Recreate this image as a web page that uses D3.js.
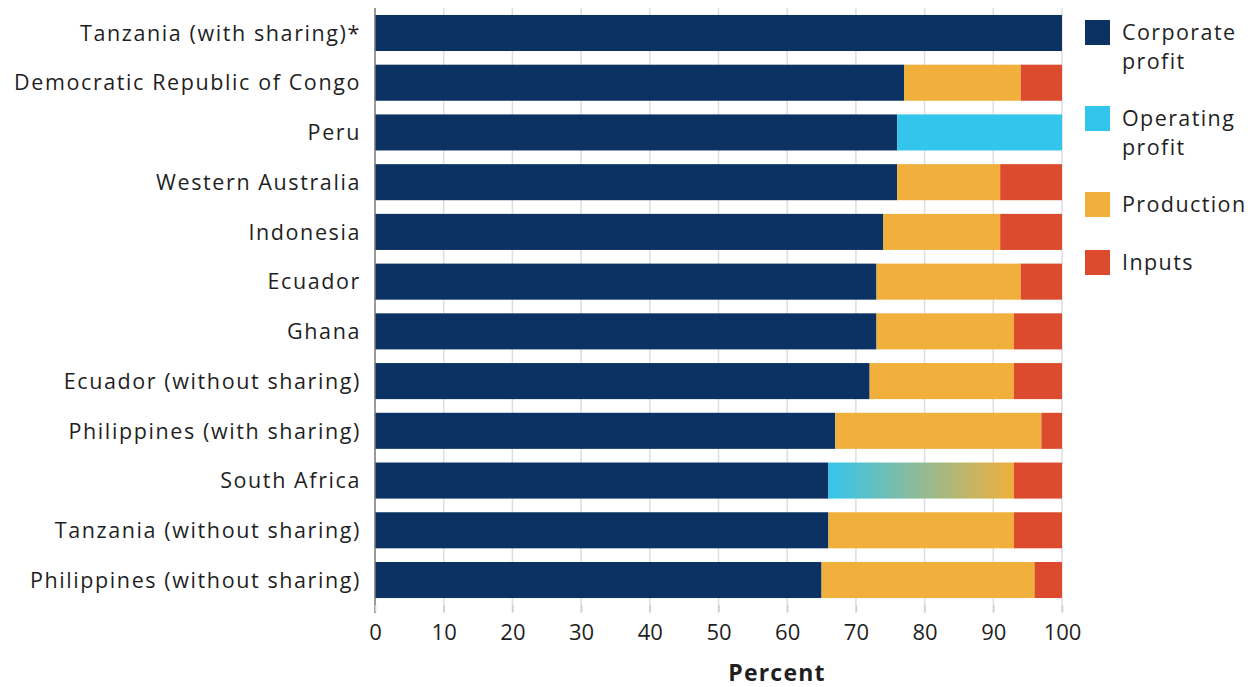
<!DOCTYPE html>
<html>
<head>
<meta charset="utf-8">
<script src="https://cdn.jsdelivr.net/npm/d3@7"></script>
<style>
  html, body { margin: 0; padding: 0; background: #ffffff; }
  svg { display: block; }
  text { font-family: "Open Sans", "DejaVu Sans", sans-serif; fill: #1f1f1f; }
</style>
</head>
<body>
<svg id="chart" width="1255" height="687"></svg>
<script>
// Share of value by recipient, percent of total
const regions = [
  "Tanzania (with sharing)*",
  "Democratic Republic of Congo",
  "Peru",
  "Western Australia",
  "Indonesia",
  "Ecuador",
  "Ghana",
  "Ecuador (without sharing)",
  "Philippines (with sharing)",
  "South Africa",
  "Tanzania (without sharing)",
  "Philippines (without sharing)"
];
const corporateProfit = [100, 77, 76, 76, 74, 73, 73, 72, 67, 66, 66, 65];
const operatingProfit = [0, 0, 24, 0, 0, 0, 0, 0, 0, 0, 0, 0];
const production      = [0, 17, 0, 15, 17, 21, 20, 21, 30, 0, 27, 31];
// South Africa's middle segment mixes operating profit and production
const mixedSegment    = [0, 0, 0, 0, 0, 0, 0, 0, 0, 27, 0, 0];
const inputs          = [0, 6, 0, 9, 9, 6, 7, 7, 3, 7, 7, 4];

const seriesNames = ["Corporate profit", "Operating profit", "Production", "Inputs"];
const xTicks = [0, 10, 20, 30, 40, 50, 60, 70, 80, 90, 100];

const colors = {
  corporate: "#0b3263",
  operating: "#33c5ec",
  production: "#f0b03b",
  inputs: "#dc4b2d",
  mixed: "url(#mixGrad)"
};

const svg = d3.select("#chart");
const margin = { left: 375, right: 193, top: 8, bottom: 82 };
const W = 1255, H = 687;

const x = d3.scaleLinear().domain([0, 100]).range([margin.left, W - margin.right]);
const y = d3.scaleBand().domain(regions).range([margin.top, H - margin.bottom])
  .paddingInner(0.275).paddingOuter(0.14);

// Gradient for the mixed segment
const defs = svg.append("defs");
const grad = defs.append("linearGradient").attr("id", "mixGrad")
  .attr("x1", "0%").attr("x2", "100%").attr("y1", "0%").attr("y2", "0%");
grad.append("stop").attr("offset", "0%").attr("stop-color", colors.operating);
grad.append("stop").attr("offset", "100%").attr("stop-color", colors.production);

// Vertical gridlines
svg.append("g").selectAll("line").data(xTicks.slice(1)).join("line")
  .attr("x1", d => x(d)).attr("x2", d => x(d))
  .attr("y1", margin.top).attr("y2", H - margin.bottom + 8)
  .attr("stroke", "#dedede").attr("stroke-width", 1.5);

// Stacked rows
const rows = regions.map((r, i) => {
  const parts = [
    { key: "corporate", v: corporateProfit[i] },
    { key: "operating", v: operatingProfit[i] },
    { key: "mixed", v: mixedSegment[i] },
    { key: "production", v: production[i] },
    { key: "inputs", v: inputs[i] }
  ];
  let acc = 0;
  return parts.filter(p => p.v > 0).map(p => {
    const seg = { region: r, key: p.key, x0: acc, x1: acc + p.v };
    acc += p.v;
    return seg;
  });
}).flat();

svg.append("g").selectAll("rect").data(rows).join("rect")
  .attr("x", d => x(d.x0))
  .attr("width", d => x(d.x1) - x(d.x0))
  .attr("y", d => y(d.region))
  .attr("height", y.bandwidth())
  .attr("fill", d => colors[d.key]);

// Left axis line
svg.append("line")
  .attr("x1", x(0)).attr("x2", x(0))
  .attr("y1", margin.top).attr("y2", H - margin.bottom + 8)
  .attr("stroke", "#777").attr("stroke-width", 1.5);

// Category labels
svg.append("g").selectAll("text").data(regions).join("text")
  .attr("x", x(0) - 14)
  .attr("y", d => y(d) + y.bandwidth() / 2)
  .attr("dy", "0.36em")
  .attr("text-anchor", "end")
  .attr("font-size", 21.5)
  .attr("letter-spacing", 1.6)
  .text(d => d);

// Bottom axis
const xAxis = d3.axisBottom(x).tickValues(xTicks).tickSize(7).tickPadding(12);
const gx = svg.append("g").attr("transform", `translate(0,${H - margin.bottom})`).call(xAxis);
gx.select(".domain").remove();
gx.selectAll(".tick line").attr("stroke", "#cfcfcf").attr("stroke-width", 1.5);
gx.selectAll(".tick text").attr("font-size", 22).attr("font-family", "'Open Sans', sans-serif").attr("fill", "#1f1f1f");

svg.append("text")
  .attr("x", 777).attr("y", 681)
  .attr("text-anchor", "middle")
  .attr("font-size", 23).attr("font-weight", "bold")
  .attr("letter-spacing", 1.2)
  .text("Percent");

// Legend
const legendItems = [
  { lines: ["Corporate", "profit"], color: colors.corporate, top: 20 },
  { lines: ["Operating", "profit"], color: colors.operating, top: 106 },
  { lines: ["Production"], color: colors.production, top: 192 },
  { lines: ["Inputs"], color: colors.inputs, top: 250 }
];
const lg = svg.append("g");
legendItems.forEach((it, i) => {
  lg.append("rect").attr("x", 1085).attr("y", it.top).attr("width", 25).attr("height", 25)
    .attr("fill", it.color);
  const t = lg.append("text").attr("x", 1122).attr("y", it.top + 12.5).attr("dy", "0.36em")
    .attr("font-size", 21.5).attr("letter-spacing", 1.4);
  it.lines.forEach((ln, j) => {
    t.append("tspan").attr("x", 1122).attr("dy", j === 0 ? "0.36em" : 29).text(ln);
  });
});
</script>
</body>
</html>
